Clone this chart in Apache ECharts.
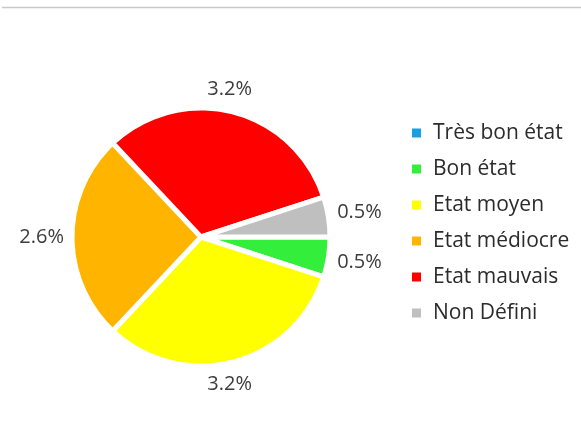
<!DOCTYPE html>
<html>
<head>
<meta charset="utf-8">
<script src="https://cdn.jsdelivr.net/npm/echarts@6/dist/echarts.min.js"></script>
<style>
  html, body { margin: 0; padding: 0; background: #ffffff; }
  #chart { width: 581px; height: 434px; }
</style>
</head>
<body>
<div id="chart"></div>
<script>
// Condition categories and their share (%)
const categories = ['Très bon état', 'Bon état', 'Etat moyen', 'Etat médiocre', 'Etat mauvais', 'Non Défini'];
const shares = [0, 0.5, 3.2, 2.6, 3.2, 0.5];
const colors = ['#1a9fe0', '#33ee3a', '#ffff00', '#ffb400', '#ff0000', '#bfbfbf'];

const PIE_CENTER = [201, 237];
const PIE_RADIUS = 129;
const LABEL_RING = 137;

// Mid-angle (screen radians, clockwise from 3 o'clock) of each slice
const total = shares.reduce((a, b) => a + b, 0);
const midAngles = [];
let acc = 0;
shares.forEach(v => {
  midAngles.push(((acc + v / 2) / total) * 2 * Math.PI);
  acc += v;
});

const chart = echarts.init(document.getElementById('chart'), null, { renderer: 'canvas' });

chart.setOption({
  animation: false,
  backgroundColor: '#ffffff',
  color: colors,
  graphic: [{
    type: 'line',
    shape: { x1: 2, y1: 7.5, x2: 581, y2: 7.5 },
    style: { stroke: '#c8c8c8', lineWidth: 1.5 }
  }],
  legend: {
    orient: 'vertical',
    left: 405,
    top: 117,
    icon: 'rect',
    itemWidth: 11,
    itemHeight: 11,
    itemGap: 14,
    data: categories,
    textStyle: {
      fontFamily: 'Open Sans',
      fontSize: 21,
      color: '#2b2b2b',
      lineHeight: 22,
      padding: [0, 0, 0, 6]
    }
  },
  series: [{
    type: 'pie',
    center: PIE_CENTER,
    radius: PIE_RADIUS,
    startAngle: 0,
    clockwise: true,
    avoidLabelOverlap: false,
    itemStyle: { borderColor: '#ffffff', borderWidth: 5 },
    emphasis: { disabled: true },
    label: {
      show: true,
      position: 'outside',
      fontFamily: 'Open Sans',
      fontSize: 20,
      color: '#3c3c3c',
      formatter: p => (p.value ? p.value.toFixed(1) + '%' : '')
    },
    labelLine: { show: false },
    // Labels sit just outside the rim on each slice's mid-angle; near-vertical
    // ones are pulled slightly toward the centre line.
    labelLayout: params => {
      const a = midAngles[params.dataIndex];
      const c = Math.cos(a), s = Math.sin(a);
      const hw = params.labelRect.width / 2;
      const hh = params.labelRect.height / 2;
      const d = LABEL_RING + hw * Math.abs(c) + hh * Math.abs(s);
      const pull = Math.sign(c) * 0.55 * hw * (1 - Math.abs(c));
      return {
        x: PIE_CENTER[0] + c * d - pull,
        y: PIE_CENTER[1] + s * d,
        align: 'center',
        verticalAlign: 'middle'
      };
    },
    data: categories.map((name, i) => ({ name, value: shares[i] }))
  }]
});
</script>
</body>
</html>
